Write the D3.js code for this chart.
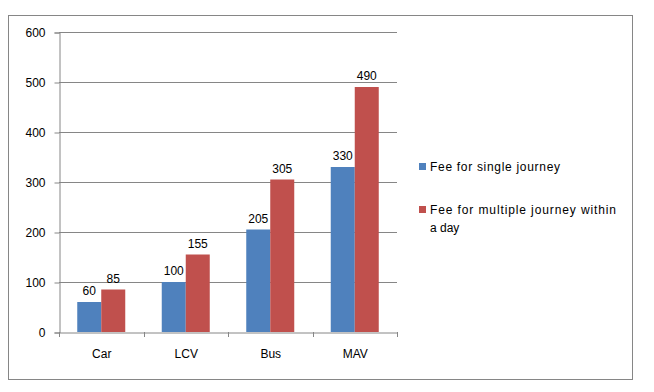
<!DOCTYPE html>
<html>
<head>
<meta charset="utf-8">
<script src="https://cdn.jsdelivr.net/npm/d3@7"></script>
<style>
  body { margin: 0; background: #fff; }
  svg text { font-family: "Liberation Sans", Arial, sans-serif; font-size: 12px; fill: #000; }
</style>
</head>
<body>
<div id="chart"></div>
<script>
var categories = ['Car', 'LCV', 'Bus', 'MAV'];
var singleFee = [60, 100, 205, 330];
var multipleFee = [85, 155, 305, 490];
var yTicks = [0, 100, 200, 300, 400, 500, 600];

var w = 654, h = 392;
var colors = ['#4F81BD', '#C0504D'];
var plotLeft = 59, plotRight = 397, plotTop = 32, plotBottom = 332;

var svg = d3.select('#chart').append('svg')
  .attr('width', w).attr('height', h);

// outer frame
svg.append('rect')
  .attr('x', 8.5).attr('y', 15.5)
  .attr('width', 624).attr('height', 364)
  .attr('fill', '#fff').attr('stroke', '#868686');

var x = d3.scaleBand().domain(categories).range([plotLeft, plotRight]);
var y = d3.scaleLinear().domain([0, 600]).range([plotBottom, plotTop]);

// gridlines
svg.append('g').selectAll('line')
  .data(yTicks.slice(1)).enter()
  .append('line')
  .attr('x1', plotLeft).attr('x2', plotRight)
  .attr('y1', function (d) { return Math.round(y(d)) + 0.5; })
  .attr('y2', function (d) { return Math.round(y(d)) + 0.5; })
  .attr('stroke', '#868686');

// y axis
var yAxis = svg.append('g')
  .attr('transform', 'translate(' + (plotLeft + 0.5) + ',0.5)')
  .call(d3.axisLeft(y).tickValues(yTicks).tickSize(5).tickPadding(9));
yAxis.selectAll('path, line').attr('stroke', '#868686');
yAxis.selectAll('text').style('font-size', '12px');

// x axis
var xAxis = svg.append('g')
  .attr('transform', 'translate(0.5,' + (plotBottom + 0.5) + ')')
  .call(d3.axisBottom(x).tickSize(0).tickPadding(17));
xAxis.select('.domain').attr('stroke', '#868686');
xAxis.selectAll('text').style('font-size', '12px');
// category separator ticks
svg.append('g').selectAll('line')
  .data(d3.range(categories.length + 1)).enter()
  .append('line')
  .attr('x1', function (i) { return Math.round(plotLeft + i * x.step()) + 0.5; })
  .attr('x2', function (i) { return Math.round(plotLeft + i * x.step()) + 0.5; })
  .attr('y1', plotBottom).attr('y2', plotBottom + 5)
  .attr('stroke', '#868686');

var barW = 24;
var series = [singleFee, multipleFee];
series.forEach(function (vals, s) {
  var g = svg.append('g');
  g.selectAll('rect')
    .data(vals).enter()
    .append('rect')
    .attr('x', function (d, i) { return x(categories[i]) + x.bandwidth() / 2 - barW + s * barW; })
    .attr('y', function (d) { return y(d); })
    .attr('width', barW)
    .attr('height', function (d) { return plotBottom - y(d); })
    .attr('fill', colors[s]);
  g.selectAll('text')
    .data(vals).enter()
    .append('text')
    .attr('x', function (d, i) { return x(categories[i]) + x.bandwidth() / 2 - barW + s * barW + barW / 2; })
    .attr('y', function (d) { return y(d) - 7; })
    .attr('text-anchor', 'middle')
    .text(function (d) { return d; });
});

// legend
var legend = svg.append('g');
legend.append('rect').attr('x', 419).attr('y', 163).attr('width', 7).attr('height', 7).attr('fill', colors[0]);
legend.append('text').attr('x', 430).attr('y', 171).attr('textLength', 130)
  .text('Fee for single journey');
legend.append('rect').attr('x', 419).attr('y', 206).attr('width', 7).attr('height', 7).attr('fill', colors[1]);
legend.append('text').attr('x', 430).attr('y', 214).attr('textLength', 186)
  .text('Fee for multiple journey within');
legend.append('text').attr('x', 430).attr('y', 232).text('a day');
</script>
</body>
</html>
